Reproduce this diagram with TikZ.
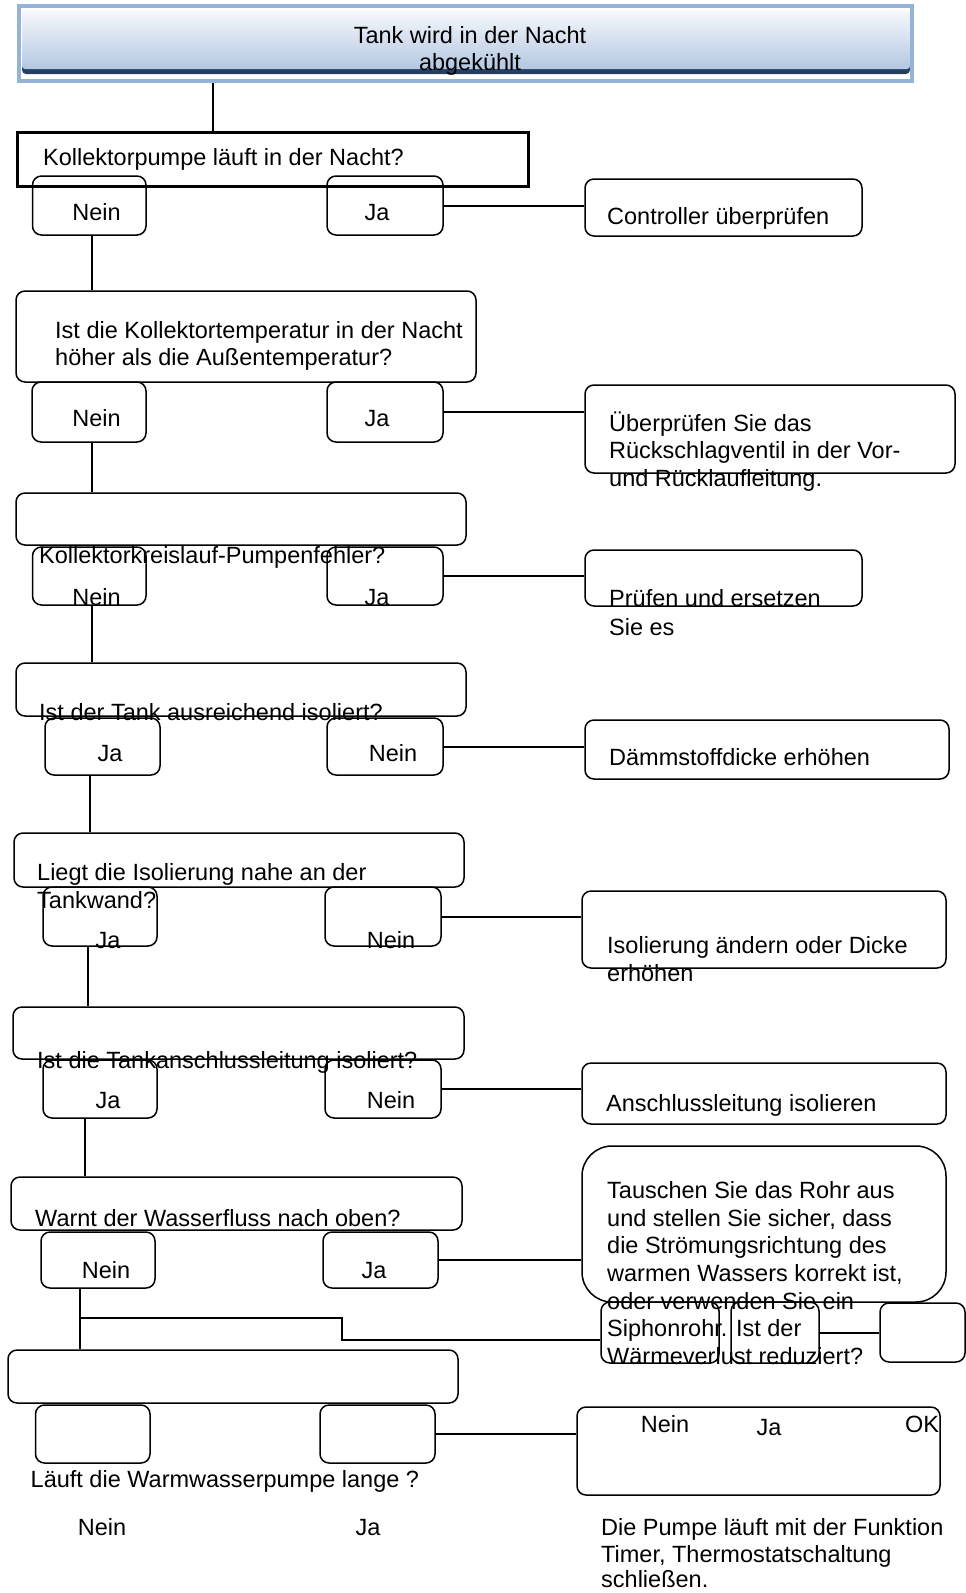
\documentclass[tikz,border=0pt]{standalone}
\usepackage{fontspec}
\setmainfont{Liberation Sans}
\newcommand{\myfs}{\fontsize{23.5}{27.7}\selectfont}
\definecolor{frameblue}{HTML}{95B3D7}
\definecolor{titletop}{HTML}{F7F9FC}
\definecolor{titlebot}{HTML}{B3C7E1}
\definecolor{navy}{HTML}{243F60}
\begin{document}
\begin{tikzpicture}[x=1pt,y=-1pt,
  box/.style={draw=black, line width=1.5pt, rounded corners=9pt, inner sep=0pt},
  sbox/.style={draw=black, line width=3pt, inner sep=0pt},
  conn/.style={draw=black, line width=2pt},
  txt/.style={inner sep=0pt, anchor=base west, font=\myfs},
  ctxt/.style={inner sep=0pt, anchor=base, font=\myfs}]
\useasboundingbox (0,0) rectangle (966,1593);
% title
\fill[navy,rounded corners=4pt] (22,58) rectangle (910,74);
\shade[top color=titletop, bottom color=titlebot, rounded corners=3pt] (22,10) rectangle (910,69);
\node[draw=frameblue, line width=4.5pt, minimum width=893pt, minimum height=75pt, inner sep=0pt] (title) at (465.5,43.5) {};
\node[ctxt] (tt1) at (470,43) {Tank wird in der Nacht};
\node[ctxt] (tt2) at (470,70.5) {abgekühlt};
% boxes
\node[sbox, minimum width=511pt, minimum height=54pt] (q1) at (272.5,159) {};
\node[box, minimum width=113.5pt, minimum height=59pt] (n1) at (89.25,205.5) {};
\node[box, minimum width=116pt, minimum height=59pt] (j1) at (385,205.5) {};
\node[box, minimum width=277pt, minimum height=57pt] (r1) at (723.5,207.5) {};
\node[box, minimum width=460pt, minimum height=91pt] (q2) at (246,336.5) {};
\node[box, minimum width=114pt, minimum height=60pt] (n2) at (89,412) {};
\node[box, minimum width=116pt, minimum height=60pt] (j2) at (385,412) {};
\node[box, minimum width=370pt, minimum height=88pt] (r2) at (770,429) {};
\node[box, minimum width=450pt, minimum height=52pt] (q3) at (241,519) {};
\node[box, minimum width=113.5pt, minimum height=58pt] (n3) at (89.25,576) {};
\node[box, minimum width=116pt, minimum height=58pt] (j3) at (385,576) {};
\node[box, minimum width=277pt, minimum height=56pt] (r3) at (723.5,578) {};
\node[box, minimum width=450pt, minimum height=53pt] (q4) at (241,689.5) {};
\node[box, minimum width=115pt, minimum height=57pt] (j4) at (102.5,746.5) {};
\node[box, minimum width=116pt, minimum height=57pt] (n4) at (385,746.5) {};
\node[box, minimum width=364pt, minimum height=59pt] (r4) at (767,749.5) {};
\node[box, minimum width=450pt, minimum height=54pt] (q5) at (239,860) {};
\node[box, minimum width=114pt, minimum height=59pt] (j5) at (100,916.5) {};
\node[box, minimum width=116pt, minimum height=59pt] (n5) at (383,916.5) {};
\node[box, minimum width=364pt, minimum height=77pt] (r5) at (764,929.5) {};
\node[box, minimum width=451pt, minimum height=52pt] (q6) at (238.5,1033) {};
\node[box, minimum width=114pt, minimum height=58pt] (j6) at (100,1089) {};
\node[box, minimum width=116pt, minimum height=58pt] (n6) at (383,1089) {};
\node[box, minimum width=364pt, minimum height=61pt] (r6) at (764,1093.5) {};
\node[box, minimum width=451pt, minimum height=53pt] (q7) at (236.5,1203.5) {};
\node[box, minimum width=114pt, minimum height=56pt] (n7) at (98,1260) {};
\node[box, minimum width=115pt, minimum height=56pt] (j7) at (380.5,1260) {};
\node[box, rounded corners=30pt, minimum width=364pt, minimum height=156pt] (r7) at (764,1224) {};
\node[box, minimum width=118pt, minimum height=61pt] (sA) at (660,1332.5) {};
\node[box, minimum width=88pt, minimum height=61pt] (sB) at (775,1332.5) {};
\node[box, minimum width=85pt, minimum height=59pt] (sC) at (922.5,1332.5) {};
\node[box, minimum width=450pt, minimum height=53pt] (q8) at (233,1376.5) {};
\node[box, minimum width=114.5pt, minimum height=58pt] (e1) at (92.75,1434) {};
\node[box, minimum width=115pt, minimum height=58pt] (e2) at (377.5,1434) {};
\node[box, minimum width=363pt, minimum height=88pt] (r9) at (758.5,1451) {};
% connectors
\coordinate (x0) at (213,0);
\coordinate (v1) at (91.5,0);
\coordinate (v4) at (89.5,0);
\coordinate (v5) at (87.5,0);
\coordinate (v6) at (85,0);
\coordinate (v7) at (80,0);
\draw[conn] (title.south -| x0) -- (q1.north -| x0);
\draw[conn] (n1.south -| v1) -- (q2.north -| v1);
\draw[conn] (n2.south -| v1) -- (q3.north -| v1);
\draw[conn] (n3.south -| v1) -- (q4.north -| v1);
\draw[conn] (j4.south -| v4) -- (q5.north -| v4);
\draw[conn] (j5.south -| v5) -- (q6.north -| v5);
\draw[conn] (j6.south -| v6) -- (q7.north -| v6);
\draw[conn] (n7.south -| v7) -- (q8.north -| v7);
\draw[conn] (j1.east) -- (r1.west |- j1.east);
\draw[conn] (j2.east) -- (r2.west |- j2.east);
\draw[conn] (j3.east) -- (r3.west |- j3.east);
\draw[conn] (n4.east) -- (r4.west |- n4.east);
\draw[conn] (n5.east) -- (r5.west |- n5.east);
\draw[conn] (n6.east) -- (r6.west |- n6.east);
\draw[conn] (j7.east) -- (r7.west |- j7.east);
\draw[conn] (sB.east) -- (sC.west);
\draw[conn] (e2.east) -- (r9.west |- e2.east);
\coordinate (b1) at (80,1318);
\coordinate (b2) at (342,1318);
\coordinate (b3) at (342,1340);
\draw[conn] (b1) -- (b2) -- (b3) -- (sA.west |- b3);
% texts
\node[txt] (t1) at (43,165) {Kollektorpumpe läuft in der Nacht?};
\node[ctxt] (t2) at (96.5,220) {Nein};
\node[ctxt] (t3) at (377,220) {Ja};
\node[txt] (t4) at (607,224) {Controller überprüfen};
\node[txt] (t5) at (55,338) {Ist die Kollektortemperatur in der Nacht};
\node[txt] (t6) at (55,365) {höher als die Außentemperatur?};
\node[ctxt] (t7) at (96.5,426) {Nein};
\node[ctxt] (t8) at (377,426) {Ja};
\node[txt] (t9) at (609,431) {Überprüfen Sie das};
\node[txt] (t10) at (609,458) {Rückschlagventil in der Vor-};
\node[txt] (t11) at (609,486) {und Rücklaufleitung.};
\node[txt] (t12) at (39,563) {Kollektorkreislauf-Pumpenfehler?};
\node[ctxt] (t13) at (96.5,605) {Nein};
\node[ctxt] (t14) at (377,605) {Ja};
\node[txt] (t15) at (609,606) {Prüfen und ersetzen};
\node[txt] (t16) at (609,635) {Sie es};
\node[txt] (t17) at (39,720) {Ist der Tank ausreichend isoliert?};
\node[ctxt] (t18) at (110,761) {Ja};
\node[ctxt] (t19) at (393,761) {Nein};
\node[txt] (t20) at (609,765) {Dämmstoffdicke erhöhen};
\node[txt] (t21) at (37,880) {Liegt die Isolierung nahe an der};
\node[txt] (t22) at (37,908) {Tankwand?};
\node[ctxt] (t23) at (108,948) {Ja};
\node[ctxt] (t24) at (391,948) {Nein};
\node[txt] (t25) at (607,953) {Isolierung ändern oder Dicke};
\node[txt] (t26) at (607,981) {erhöhen};
\node[txt] (t27) at (37,1068) {Ist die Tankanschlussleitung isoliert?};
\node[ctxt] (t28) at (108,1108) {Ja};
\node[ctxt] (t29) at (391,1108) {Nein};
\node[txt] (t30) at (606,1111) {Anschlussleitung isolieren};
\node[txt] (t31) at (35,1226) {Warnt der Wasserfluss nach oben?};
\node[ctxt] (t32) at (106,1278) {Nein};
\node[ctxt] (t33) at (374,1278) {Ja};
\node[txt] (t34) at (607,1198) {Tauschen Sie das Rohr aus};
\node[txt] (t35) at (607,1226) {und stellen Sie sicher, dass};
\node[txt] (t36) at (607,1253) {die Strömungsrichtung des};
\node[txt] (t37) at (607,1281) {warmen Wassers korrekt ist,};
\node[txt] (t38) at (607,1309) {oder verwenden Sie ein};
\node[txt] (t39) at (607,1336) {Siphonrohr. Ist der};
\node[txt] (t40) at (607,1364) {Wärmeverlust reduziert?};
\node[ctxt] (t41) at (665,1432) {Nein};
\node[ctxt] (t42) at (769,1435) {Ja};
\node[ctxt] (t43) at (922,1432) {OK};
\node[txt] (t44) at (30.5,1487) {Läuft die Warmwasserpumpe lange ?};
\node[ctxt] (t45) at (102,1535) {Nein};
\node[ctxt] (t46) at (368,1535) {Ja};
\node[txt] (t47) at (601,1535) {Die Pumpe läuft mit der Funktion};
\node[txt] (t48) at (601,1562) {Timer, Thermostatschaltung};
\node[txt] (t49) at (601,1587) {schließen.};
\end{tikzpicture}
\end{document}
